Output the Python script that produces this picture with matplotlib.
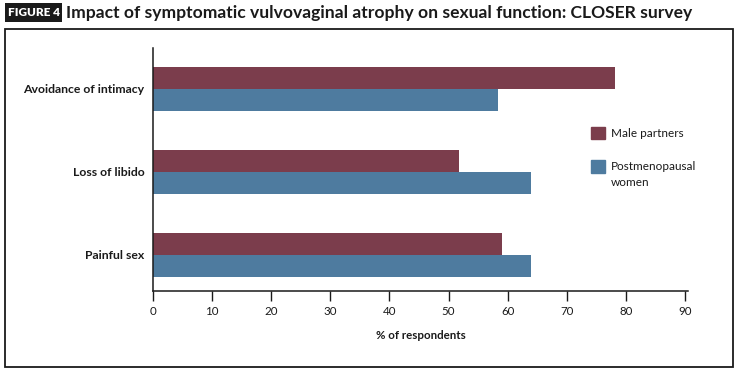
import matplotlib
matplotlib.use("Agg")
import matplotlib.pyplot as plt
from matplotlib.patches import Rectangle, Patch
from matplotlib.legend_handler import HandlerPatch
import numpy as np

categories = ["Painful sex", "Loss of libido", "Avoidance of intimacy"]
male_partners = [59, 51.8, 78.2]
postmenopausal_women = [64, 64, 58.4]
series_labels = ["Male partners", "Postmenopausal\nwomen"]
xticks = [0, 10, 20, 30, 40, 50, 60, 70, 80, 90]

MAROON = "#7b3d4c"
BLUE = "#4e7b9f"
INK = "#1a1a1a"

W, H = 739, 371
plt.rcParams['font.family'] = ['Lato', 'DejaVu Sans']
fig = plt.figure(figsize=(W / 100, H / 100), dpi=100)

def px(x0, y0, x1, y1):
    return [x0 / W, 1 - y1 / H, (x1 - x0) / W, (y1 - y0) / H]

# outer frame
fig.patches.append(Rectangle((5 / W, 1 - 367 / H), 728 / W, 338 / H,
                             transform=fig.transFigure, fill=False,
                             edgecolor=INK, linewidth=1.3))
# title block
fig.patches.append(Rectangle((5 / W, 1 - 22 / H), 57 / W, 19 / H,
                             transform=fig.transFigure, facecolor=INK, edgecolor="none"))
fig.text(33.5 / W, 1 - 12.5 / H, "FIGURE 4", color="white", fontsize=8.5,
         fontweight="heavy", va="center", ha="center")
fig.text(66 / W, 1 - 13 / H,
         "Impact of symptomatic vulvovaginal atrophy on sexual function: CLOSER survey",
         fontsize=12.6, fontweight="bold", va="center", ha="left", color=INK)

ax = fig.add_axes(px(153, 48, 688, 291))
y = np.arange(len(categories))
h = 0.265
ax.barh(y + h / 2, male_partners, height=h, color=MAROON, label=series_labels[0])
ax.barh(y - h / 2, postmenopausal_women, height=h, color=BLUE, label=series_labels[1])

ax.set_xlim(0, 90.5)
ax.set_ylim(-0.434, 2.494)
ax.set_xticks(xticks)
ax.set_xticklabels([str(t) for t in xticks], fontsize=8.3, color=INK)
ax.set_yticks(y)
ax.set_yticklabels(categories, fontsize=8.8, fontweight="bold", color=INK)
ax.tick_params(axis="y", length=0, pad=6)
ax.tick_params(axis="x", length=7, width=1, color=INK, pad=4)
for s in ["top", "right"]:
    ax.spines[s].set_visible(False)
for s in ["left", "bottom"]:
    ax.spines[s].set_linewidth(1.1)
    ax.spines[s].set_color(INK)
ax.set_xlabel("% of respondents", fontsize=8.3, fontweight="bold", color=INK, labelpad=9)

def make_patch(shift):
    def f(legend, orig_handle, xdescent, ydescent, width, height, fontsize):
        return Rectangle((-xdescent, -ydescent + shift * fontsize), width, height)
    return f

h1, h2 = Patch(color=MAROON), Patch(color=BLUE)
leg = fig.legend(handles=[h1, h2], labels=series_labels,
                 loc="upper left", bbox_to_anchor=(580 / W, 1 - 116 / H),
                 frameon=False, fontsize=8.5, handlelength=1.25, handleheight=1.25,
                 handletextpad=0.45, labelspacing=1.85,
                 handler_map={h1: HandlerPatch(patch_func=make_patch(0.0)),
                              h2: HandlerPatch(patch_func=make_patch(0.72))})
for t in leg.get_texts():
    t.set_color(INK)
    t.set_linespacing(1.6)

fig.savefig("out.png", dpi=100)
